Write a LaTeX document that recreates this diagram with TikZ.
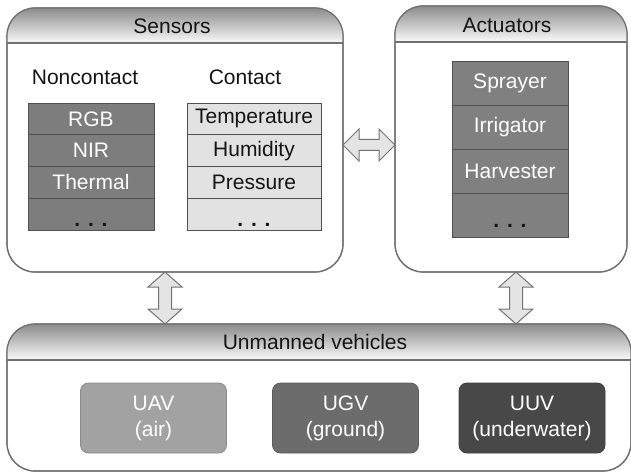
\documentclass[tikz,border=0pt]{standalone}
\usepackage{fontspec}
\setmainfont{Liberation Sans}
\usetikzlibrary{calc}
\definecolor{outl}{RGB}{112,112,112}
\definecolor{hdrtop}{RGB}{140,140,140}
\definecolor{hdrbot}{RGB}{250,250,250}
\definecolor{ncfill}{RGB}{125,125,125}
\definecolor{cfill}{RGB}{226,226,226}
\definecolor{afill}{RGB}{128,128,128}
\definecolor{cellline}{RGB}{80,80,80}
\definecolor{uavfill}{RGB}{162,162,162}
\definecolor{ugvfill}{RGB}{108,108,108}
\definecolor{uuvfill}{RGB}{72,72,72}
\definecolor{arrfill}{RGB}{228,228,228}
\definecolor{arrline}{RGB}{115,115,115}
\definecolor{txt}{RGB}{20,20,20}
\pgfdeclareverticalshading{hdrshade}{100bp}{color(0bp)=(hdrbot); color(25bp)=(hdrbot); color(75bp)=(hdrtop); color(100bp)=(hdrtop)}
\begin{document}
\begin{tikzpicture}[x=1pt,y=-1pt,
  every node/.style={font=\fontsize{21}{26}\selectfont, inner sep=0pt, outer sep=0pt},
  outerbox/.style 2 args={draw=outl, line width=1.2pt, fill=white,
    rounded corners=28pt, minimum width=#1, minimum height=#2},
  sepline/.style={draw=outl, line width=1.2pt},
  hdrtext/.style={text=txt},
  nccell/.style={draw=cellline, line width=0.8pt, fill=ncfill, text=white,
    minimum width=126pt, minimum height=31.75pt},
  ccell/.style={draw=cellline, line width=0.8pt, fill=cfill, text=txt,
    minimum width=134pt, minimum height=31.75pt},
  acell/.style={draw=cellline, line width=0.8pt, fill=afill, text=white,
    minimum width=116pt, minimum height=44pt},
  dots/.style={anchor=base, font=\fontsize{21}{26}\selectfont\bfseries},
  vbox/.style={draw=#1!85!black, fill=#1, line width=0.8pt, rounded corners=8pt,
    minimum width=146pt, minimum height=70pt, text=white, align=center},
  arrowshape/.style={draw=arrline, fill=arrfill, line width=1pt, line join=miter}
]
\useasboundingbox (0,0) rectangle (631,473);

% outer boxes
\node[outerbox={336pt}{264pt}] (sensors) at (175,140) {};
\begin{scope}
  \clip[rounded corners=28pt] (sensors.north west) rectangle (sensors.south east);
  \shade[shading=hdrshade] (sensors.north west) rectangle ([yshift=-35pt]sensors.north east);
\end{scope}
\draw[sepline, rounded corners=28pt] (sensors.north west) rectangle (sensors.south east);
\draw[sepline] ([yshift=-35pt]sensors.north west) -- ([yshift=-35pt]sensors.north east);
\node[hdrtext] (sensorsT) at ([xshift=-3pt,yshift=-18pt]sensors.north) {Sensors};

\node[outerbox={232pt}{266pt}] (actuators) at (511,139) {};
\begin{scope}
  \clip[rounded corners=28pt] (actuators.north west) rectangle (actuators.south east);
  \shade[shading=hdrshade] (actuators.north west) rectangle ([yshift=-36pt]actuators.north east);
\end{scope}
\draw[sepline, rounded corners=28pt] (actuators.north west) rectangle (actuators.south east);
\draw[sepline] ([yshift=-36pt]actuators.north west) -- ([yshift=-36pt]actuators.north east);
\node[hdrtext] (actuatorsT) at ([xshift=-4pt,yshift=-19pt]actuators.north) {Actuators};

\node[outerbox={624pt}{147pt}] (vehicles) at (319,397.5) {};
\begin{scope}
  \clip[rounded corners=28pt] (vehicles.north west) rectangle (vehicles.south east);
  \shade[shading=hdrshade] (vehicles.north west) rectangle ([yshift=-36pt]vehicles.north east);
\end{scope}
\draw[sepline, rounded corners=28pt] (vehicles.north west) rectangle (vehicles.south east);
\draw[sepline] ([yshift=-36pt]vehicles.north west) -- ([yshift=-36pt]vehicles.north east);
\node[hdrtext] (vehiclesT) at ([xshift=-4pt,yshift=-18pt]vehicles.north) {Unmanned vehicles};

% sensor columns
\node[text=txt] (ncT) at (85,77) {Noncontact};
\node[text=txt] (cT) at (245,77) {Contact};

\node[nccell] (nc1) at (91,118.875) {RGB};
\node[nccell] (nc2) at (91,150.625) {NIR};
\node[nccell] (nc3) at (91,182.375) {Thermal};
\node[nccell] (nc4) at (91,214.125) {};
\node[dots, text=txt] (ncd) at ([yshift=4pt]nc4.south) {. . .};

\node[ccell] (c1) at (254,118.875) {Temperature};
\node[ccell] (c2) at (254,150.625) {Humidity};
\node[ccell] (c3) at (254,182.375) {Pressure};
\node[ccell] (c4) at (254,214.125) {};
\node[dots, text=txt] (cd) at ([yshift=4pt]c4.south) {. . .};

% actuators column
\node[acell] (a1) at (510,83) {Sprayer};
\node[acell] (a2) at (510,127) {Irrigator};
\node[acell] (a3) at (510,171) {Harvester};
\node[acell] (a4) at (510,215) {};
\node[dots, text=txt] (ad) at ([yshift=10pt]a4.south) {. . .};

% vehicles
\node[vbox=uavfill] (uav) at (153.5,418) {UAV\\(air)};
\node[vbox=ugvfill] (ugv) at (345.5,418) {UGV\\(ground)};
\node[vbox=uuvfill] (uuv) at (532,418) {UUV\\(underwater)};

% horizontal double arrow
\coordinate (hy) at (0,145);
\coordinate (hl) at (sensors.east |- hy);
\coordinate (hr) at (actuators.west |- hy);
\draw[arrowshape] (hl) -- ($(hl)+(16,-16)$) -- ($(hl)+(16,-5.5)$) -- ($(hr)+(-16,-5.5)$)
  -- ($(hr)+(-16,-16)$) -- (hr) -- ($(hr)+(-16,16)$) -- ($(hr)+(-16,5.5)$)
  -- ($(hl)+(16,5.5)$) -- ($(hl)+(16,16)$) -- cycle;

% vertical double arrows
\coordinate (vx1) at (165,0);
\coordinate (vt1) at (sensors.south -| vx1);
\coordinate (vb1) at (vehicles.north -| vx1);
\draw[arrowshape] (vt1) -- ($(vt1)+(17,15)$) -- ($(vt1)+(6.5,15)$) -- ($(vb1)+(6.5,-15)$)
  -- ($(vb1)+(17,-15)$) -- (vb1) -- ($(vb1)+(-17,-15)$) -- ($(vb1)+(-6.5,-15)$)
  -- ($(vt1)+(-6.5,15)$) -- ($(vt1)+(-17,15)$) -- cycle;

\coordinate (vx2) at (516,0);
\coordinate (vt2) at (actuators.south -| vx2);
\coordinate (vb2) at (vehicles.north -| vx2);
\draw[arrowshape] (vt2) -- ($(vt2)+(17,15)$) -- ($(vt2)+(6.5,15)$) -- ($(vb2)+(6.5,-15)$)
  -- ($(vb2)+(17,-15)$) -- (vb2) -- ($(vb2)+(-17,-15)$) -- ($(vb2)+(-6.5,-15)$)
  -- ($(vt2)+(-6.5,15)$) -- ($(vt2)+(-17,15)$) -- cycle;
\end{tikzpicture}
\end{document}
